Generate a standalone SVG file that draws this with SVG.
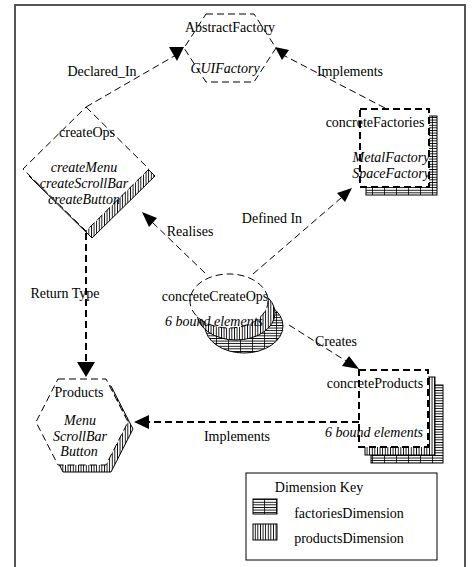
<svg xmlns="http://www.w3.org/2000/svg" width="472" height="567" viewBox="0 0 472 567">
<defs>
<pattern id="vh" patternUnits="userSpaceOnUse" width="2.6" height="20"><rect width="2.6" height="20" fill="#fff"/><rect x="0" y="0" width="0.9" height="20" fill="#000"/></pattern>
<pattern id="hh" patternUnits="userSpaceOnUse" width="12" height="2.6"><rect width="12" height="2.6" fill="#fff"/><rect x="0" y="0" width="12" height="0.9" fill="#000"/><rect x="0" y="0" width="0.8" height="2.6" fill="#000"/></pattern>
</defs>
<style>
text{font-family:"Liberation Serif","Times New Roman",serif;font-size:14px;fill:#000;text-anchor:middle}
.i{font-style:italic}
.thin{fill:none;stroke:#000;stroke-width:1;stroke-dasharray:7 4}
.thick{fill:none;stroke:#000;stroke-width:2;stroke-dasharray:7 4}
.mainw{fill:#fff;stroke:#000;stroke-width:1;stroke-dasharray:7 4}
.boxw{fill:#fff;stroke:#000;stroke-width:2;stroke-dasharray:7 4}
.sh{stroke:#000;stroke-width:1}
.ah{fill:#000;stroke:none}
</style>
<rect x="15" y="5" width="450" height="600" fill="none" stroke="#555" stroke-width="2"/>

<g id="connectors">
<line class="thin" x1="86" y1="107" x2="176" y2="55"/>
<polygon class="ah" points="169,47 184,47 177,61"/>
<line class="thin" x1="385" y1="108" x2="283" y2="55"/>
<polygon class="ah" points="275,47 289,50 282,60"/>
<line class="thick" x1="86" y1="233" x2="86" y2="363"/>
<polygon class="ah" points="77,362 95,362 86,377"/>
<line class="thin" x1="205" y1="273" x2="152" y2="222"/>
<polygon class="ah" points="142,212 157,218 149,227"/>
<line class="thin" x1="253" y1="274" x2="341" y2="198"/>
<polygon class="ah" points="352,188 345,202 337,193"/>
<line class="thin" x1="289" y1="325" x2="346" y2="361"/>
<polygon class="ah" points="359,369 342,366 349,356"/>
<line class="thick" x1="359" y1="422" x2="148" y2="422"/>
<polygon class="ah" points="134,422 149,415 149,429"/>
<text x="102" y="76">Declared_In</text>
<text x="350" y="76">Implements</text>
<text x="190" y="236">Realises</text>
<text x="272" y="223">Defined In</text>
<text x="65" y="298">Return Type</text>
<text x="336" y="346">Creates</text>
<text x="237" y="441">Implements</text>
</g>

<g id="AbstractFactory">
<polygon class="mainw" points="206,14 254,14 276,48 254,82 206,82 184,48"/>
<text x="230" y="32">AbstractFactory</text>
<text class="i" x="225" y="73">GUIFactory</text>
</g>

<g id="createOps">
<polygon class="sh" fill="url(#vh)" points="92,114 155,176 92,238 29,176"/>
<polygon class="mainw" points="86,107 149,169 86,231 23,169"/>
<text x="87" y="137">createOps</text>
<text class="i" x="84" y="172">createMenu</text>
<text class="i" x="84" y="188">createScrollBar</text>
<text class="i" x="84" y="204">createButton</text>
</g>

<g id="concreteFactories">
<rect class="sh" fill="url(#hh)" x="366" y="116" width="71" height="79"/>
<rect class="boxw" x="360" y="109" width="69" height="78"/>
<text x="375" y="127">concreteFactories</text>
<text class="i" x="391" y="162">MetalFactory</text>
<text class="i" x="391" y="178">SpaceFactory</text>
</g>

<g id="concreteCreateOps">
<ellipse class="sh" fill="url(#hh)" cx="244" cy="326" rx="39" ry="27"/>
<ellipse class="sh" fill="url(#vh)" cx="236" cy="313" rx="39" ry="27"/>
<ellipse class="mainw" cx="229" cy="301" rx="39" ry="27"/>
<text x="215" y="301">concreteCreateOps</text>
<text class="i" x="214" y="326">6 bound elements</text>
</g>

<g id="Products">
<polygon class="sh" fill="url(#vh)" points="63,386 111,386 133,429 111,472 63,472 41,429"/>
<polygon class="mainw" points="58,379 106,379 128,422 106,465 58,465 36,422"/>
<text x="79" y="397">Products</text>
<text class="i" x="80" y="425">Menu</text>
<text class="i" x="80" y="441">ScrollBar</text>
<text class="i" x="79" y="456">Button</text>
</g>

<g id="concreteProducts">
<rect class="sh" fill="url(#hh)" x="371" y="385" width="72" height="78"/>
<rect class="sh" fill="url(#vh)" x="365" y="377" width="70" height="78"/>
<rect class="boxw" x="359" y="370" width="69" height="77"/>
<text x="375" y="388">concreteProducts</text>
<text class="i" x="374" y="437">6 bound elements</text>
</g>

<g id="DimensionKey">
<rect x="246" y="473" width="191" height="87" fill="#fff" stroke="#000" stroke-width="1"/>
<text x="319" y="492">Dimension Key</text>
<rect class="sh" fill="url(#hh)" x="253" y="499" width="24" height="15"/>
<rect class="sh" fill="url(#vh)" x="253" y="524" width="24" height="16"/>
<text x="349" y="518">factoriesDimension</text>
<text x="349" y="543">productsDimension</text>
</g>
</svg>
